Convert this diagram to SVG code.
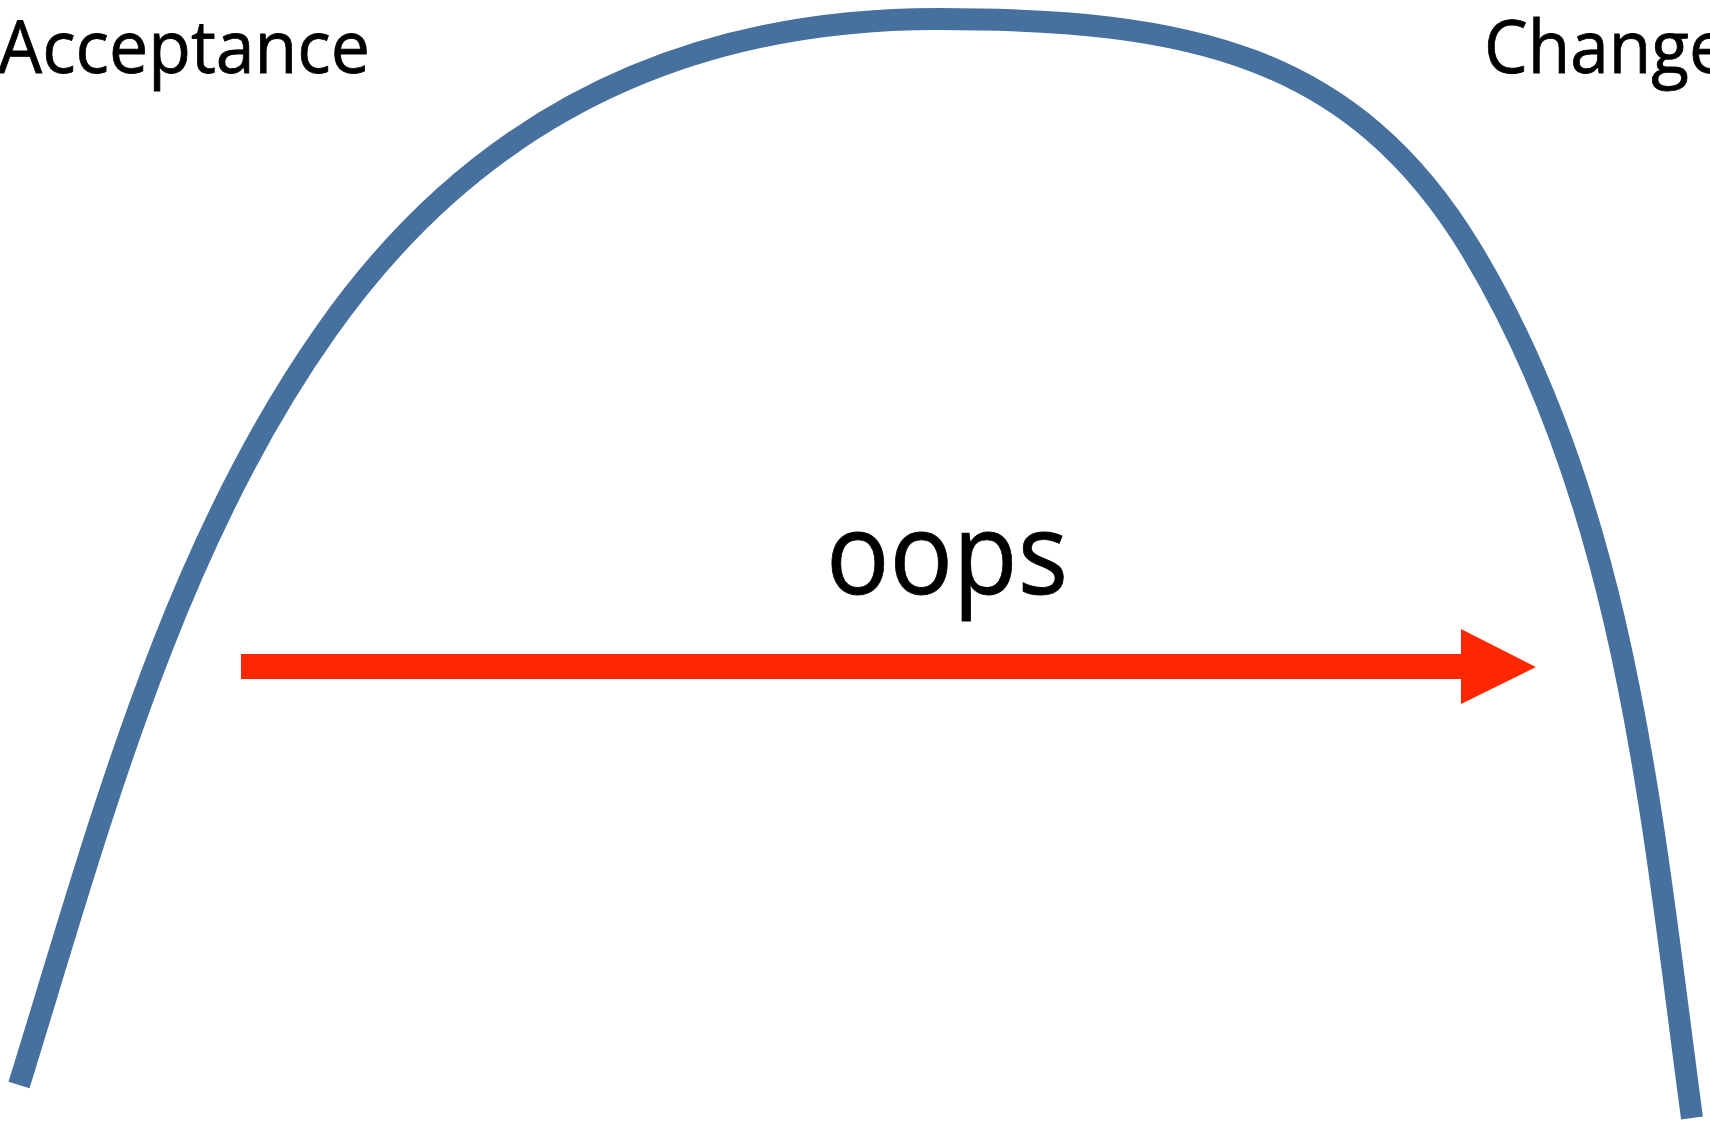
<svg xmlns="http://www.w3.org/2000/svg" width="1710" height="1124" viewBox="0 0 1710 1124">
<style>
.lbl{font-family:"Open Sans","Noto Sans","Liberation Sans",sans-serif;fill:#000;stroke:#000;stroke-width:0.8}
.curve{fill:none;stroke:#46709D;stroke-width:22}
.arrow{fill:#FF2600;stroke:none}
</style>
<rect width="1710" height="1124" fill="#fff"/>
<g id="connectors">
<path class="curve" d="M19,1085 C99,827 171,550 327,330 C454,150 645,19 938,19 C1188,19 1353,54 1472,251 C1627,508 1652,821 1692,1118"/>
<polygon class="arrow" points="241,654 1461,654 1461,629 1536,667 1461,704 1461,679 241,679"/>
</g>
<g id="acceptance"><text class="lbl" x="-2" y="73" font-size="74" textLength="372" lengthAdjust="spacingAndGlyphs">Acceptance</text></g>
<g id="change"><text class="lbl" x="1484" y="73" font-size="74" textLength="244" lengthAdjust="spacingAndGlyphs">Change</text></g>
<g id="oops"><text class="lbl" x="826" y="594" font-size="114" textLength="242" lengthAdjust="spacingAndGlyphs">oops</text></g>
</svg>
